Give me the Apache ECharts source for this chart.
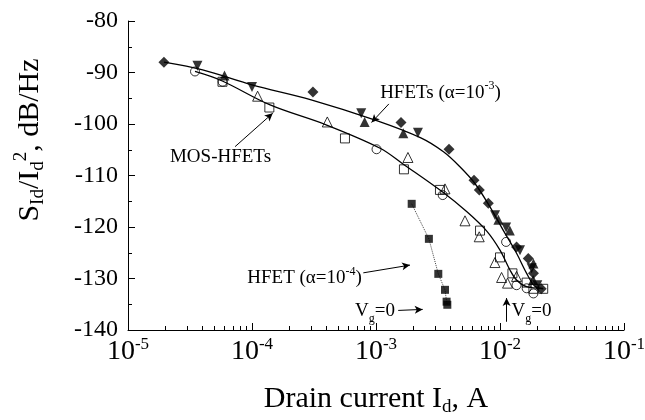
<!DOCTYPE html>
<html>
<head>
<meta charset="utf-8">
<script src="https://cdn.jsdelivr.net/npm/echarts@6/dist/echarts.min.js"></script>
<style>
html, body { margin: 0; padding: 0; background: #fff; }
#chart { width: 645px; height: 420px; }
</style>
</head>
<body>
<div id="chart"></div>
<script>
// HFETs (alpha=1e-3): 实心标记
var hfetDiamond = [[1.95e-5, -88.0], [3.1e-4, -93.8], [1.59e-3, -99.7], [3.88e-3, -104.9], [6.17e-3, -110.9], [6.81e-3, -112.8], [8.05e-3, -115.4], [1.36e-2, -123.9], [1.69e-2, -126.1], [1.86e-2, -129.0], [2.15e-2, -132.0]];
var hfetDown = [[3.63e-5, -88.7], [1.0e-4, -92.8], [7.6e-4, -97.9], [2.18e-3, -101.7], [9.12e-3, -117.7], [1.12e-2, -120.1], [1.45e-2, -124.5], [1.80e-2, -128.0], [2.0e-2, -131.3]];
var hfetUp = [[6.0e-5, -90.6], [8.1e-4, -99.6], [1.66e-3, -101.8], [9.7e-3, -118.6], [1.2e-2, -120.7], [1.86e-2, -127.1], [1.85e-2, -130.3]];

// MOS-HFETs: 空心标记
var mosSquare = [[5.78e-5, -91.8], [1.38e-4, -96.8], [5.62e-4, -102.8], [1.68e-3, -108.8], [3.28e-3, -112.8], [6.9e-3, -120.7], [1.0e-2, -125.9], [1.26e-2, -129.0], [1.64e-2, -130.8], [1.86e-2, -132.0], [2.23e-2, -132.0]];
var mosCircle = [[3.47e-5, -89.8], [5.8e-5, -91.8], [1.01e-3, -104.9], [3.45e-3, -113.8], [1.12e-2, -122.9], [1.36e-2, -131.3], [1.64e-2, -131.9], [1.86e-2, -132.9]];
var mosTriangle = [[1.11e-4, -94.6], [4.05e-4, -99.6], [1.81e-3, -106.5], [3.6e-3, -112.6], [5.22e-3, -118.8], [6.8e-3, -121.9], [9.1e-3, -126.9], [1.03e-2, -129.8], [1.15e-2, -130.9], [1.36e-2, -129.6]];

// HFET (alpha=1e-4)
var hfet4Square = [[1.94e-3, -115.5], [2.67e-3, -122.3], [3.18e-3, -129.1], [3.6e-3, -132.2], [3.71e-3, -134.5], [3.76e-3, -135.1]];

// 拟合曲线
var hfetFit = [[1.95e-5, -88], [4e-5, -89.5], [1e-4, -92.4], [3e-4, -95.3], [1e-3, -99.3], [2.3e-3, -102.7], [3.5e-3, -105.4], [4.75e-3, -108.3], [6.3e-3, -111.6], [8.3e-3, -116.1], [1.06e-2, -120.6], [1.36e-2, -125.1], [1.64e-2, -129], [1.91e-2, -131.5], [2.23e-2, -132]];
var mosFit = [[3.47e-5, -89.8], [5.7e-5, -91.6], [1.4e-4, -96.3], [4e-4, -100.2], [1.08e-3, -104.7], [1.66e-3, -107.8], [3.49e-3, -113.3], [5.38e-3, -117], [7.82e-3, -120.8], [1e-2, -124.5], [1.2e-2, -128.3], [1.36e-2, -130.3], [1.64e-2, -131.6], [2.23e-2, -131.9]];

// 坐标轴刻度
var xDecades = [-5, -4, -3, -2, -1];
var yTicks = [-140, -130, -120, -110, -100, -90, -80];

var FONT = '"Liberation Serif", "DejaVu Serif", serif';

var minorX = [];
for (var d = 0; d < xDecades.length - 1; d++) {
    for (var m = 2; m <= 9; m++) {
        minorX.push(m * Math.pow(10, xDecades[d]));
    }
}

function rich(size) {
    var s = Math.round(size * 0.62);
    return {
        sup: { fontSize: s, lineHeight: s, verticalAlign: 'top', fontFamily: FONT, color: '#000' },
        sub: { fontSize: s, lineHeight: s, verticalAlign: 'bottom', fontFamily: FONT, color: '#000' }
    };
}

function marker(name, data, symbol, filled, size, rotate) {
    return {
        name: name,
        type: 'scatter',
        data: data,
        symbol: symbol,
        symbolSize: size,
        symbolRotate: rotate || 0,
        itemStyle: filled
            ? { color: '#000', borderColor: '#000', borderWidth: 0 }
            : { color: 'rgba(255,255,255,0)', borderColor: '#000', borderWidth: 1 },
        z: 5
    };
}

function fit(data) {
    return {
        type: 'line',
        data: data,
        showSymbol: false,
        smooth: 0.35,
        lineStyle: { color: '#000', width: 1.3 },
        z: 3
    };
}

function note(x, y, text) {
    return { coord: [x, y], label: { formatter: text } };
}

function arrow(x1, y1, x2, y2) {
    return [{ coord: [x1, y1] }, { coord: [x2, y2] }];
}

var chart = echarts.init(document.getElementById('chart'));

var option = {
    backgroundColor: '#fff',
    animation: false,
    grid: { left: 128, right: 21, top: 21, bottom: 90, outerBoundsMode: 'none' },
    xAxis: [{
        type: 'log',
        logBase: 10,
        min: Math.pow(10, xDecades[0]),
        max: Math.pow(10, xDecades[xDecades.length - 1]),
        name: 'Drain current I{sub|d}, A',
        nameLocation: 'middle',
        nameGap: 51,
        nameTextStyle: { fontFamily: FONT, fontSize: 30, color: '#000', lineHeight: 36, rich: rich(30) },
        axisLine: { lineStyle: { color: '#000', width: 1 } },
        axisTick: { inside: true, length: 7, lineStyle: { color: '#000' } },
        splitLine: { show: false },
        axisLabel: {
            margin: 6,
            fontFamily: FONT,
            fontSize: 28,
            lineHeight: 32,
            color: '#000',
            formatter: function (v) {
                return '10{sup|' + Math.round(Math.log10(v)) + '}';
            },
            rich: { sup: { fontSize: 17, lineHeight: 17, verticalAlign: 'top', fontFamily: FONT, color: '#000' } }
        }
    }, {
        // 次刻度
        type: 'log',
        logBase: 10,
        position: 'bottom',
        min: Math.pow(10, xDecades[0]),
        max: Math.pow(10, xDecades[xDecades.length - 1]),
        axisLine: { show: false },
        axisLabel: { show: false },
        splitLine: { show: false },
        axisTick: { inside: true, length: 4, customValues: minorX, lineStyle: { color: '#000' } }
    }],
    yAxis: {
        type: 'value',
        min: yTicks[0],
        max: yTicks[yTicks.length - 1],
        interval: 10,
        axisLine: { show: true, lineStyle: { color: '#000', width: 1 } },
        axisTick: { show: true, inside: true, length: 7, lineStyle: { color: '#000' } },
        minorTick: { show: true, splitNumber: 2, length: 4, lineStyle: { color: '#000' } },
        splitLine: { show: false },
        axisLabel: { margin: 10, fontFamily: FONT, fontSize: 24, color: '#000' }
    },
    graphic: [{
        type: 'text',
        x: 30,
        y: 140,
        rotation: Math.PI / 2,
        style: {
            text: 'S{sub|Id}/I{sub|d}{sup|2}, dB/Hz',
            fontFamily: FONT,
            fontSize: 30,
            lineHeight: 36,
            fill: '#000',
            align: 'center',
            verticalAlign: 'middle',
            rich: rich(30)
        }
    }],
    series: [
        fit(hfetFit),
        fit(mosFit),
        {
            type: 'line',
            data: hfet4Square,
            showSymbol: false,
            lineStyle: { color: '#444', width: 1, type: 'dotted' },
            z: 3
        },
        marker('hfet4', hfet4Square, 'rect', true, 8),
        marker('hfetDiamond', hfetDiamond, 'diamond', true, 11),
        marker('hfetDown', hfetDown, 'triangle', true, 10, 180),
        marker('hfetUp', hfetUp, 'triangle', true, 10),
        marker('mosSquare', mosSquare, 'rect', false, 9),
        marker('mosCircle', mosCircle, 'circle', false, 9),
        marker('mosTriangle', mosTriangle, 'triangle', false, 10),
        {
            // 注释文字与箭头
            type: 'line',
            data: [],
            markPoint: {
                symbol: 'circle',
                symbolSize: 0,
                label: {
                    show: true,
                    position: 'right',
                    distance: 0,
                    fontFamily: FONT,
                    fontSize: 19,
                    lineHeight: 26,
                    color: '#000',
                    rich: rich(19)
                },
                data: [
                    note(1.08e-3, -94.0, 'HFETs (\u03b1=10{sup|-3})'),
                    note(2.18e-5, -106.5, 'MOS-HFETs'),
                    note(9.16e-5, -130.0, 'HFET (\u03b1=10{sup|-4})'),
                    note(6.78e-4, -136.4, 'V{sub|g}=0'),
                    note(1.24e-2, -136.4, 'V{sub|g}=0')
                ]
            },
            markLine: {
                silent: true,
                symbol: ['none', 'arrow'],
                symbolSize: [6, 8],
                label: { show: false },
                lineStyle: { color: '#000', width: 1, type: 'solid' },
                data: [
                    arrow(1.27e-3, -96.1, 9.2e-4, -99.7),
                    arrow(7.3e-5, -104.4, 1.47e-4, -97.9),
                    arrow(7.9e-4, -128.9, 1.88e-3, -127.4),
                    arrow(1.51e-3, -136.2, 2.38e-3, -136.0),
                    arrow(1.13e-2, -138.4, 1.13e-2, -133.8)
                ]
            }
        }
    ]
};

chart.setOption(option);
</script>
</body>
</html>
